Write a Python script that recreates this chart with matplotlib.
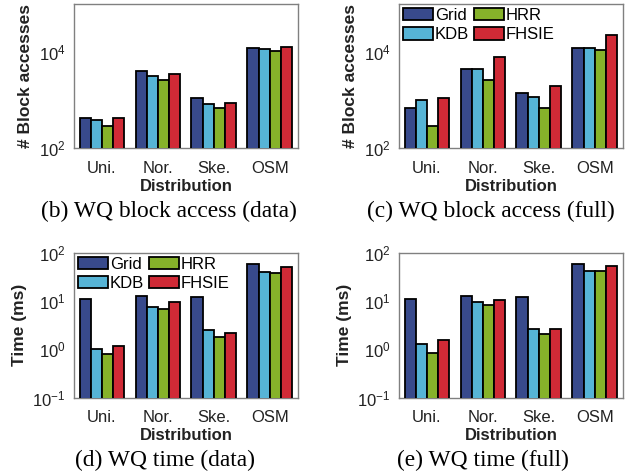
import numpy as np
import matplotlib
matplotlib.use("Agg")
import matplotlib.pyplot as plt
from matplotlib.ticker import FixedLocator, LogFormatterSciNotation, NullLocator

categories = ["Uni.", "Nor.", "Ske.", "OSM"]
methods = ["Grid", "KDB", "HRR", "FHSIE"]
colors = ["#384a8c", "#56b4d6", "#86b22a", "#d02a36"]

# (b) WQ block access (data)
block_data = {
    "Grid":  [421, 4100, 1127, 12160],
    "KDB":   [394, 3190, 822, 11780],
    "HRR":   [291, 2600, 679, 10700],
    "FHSIE": [433, 3510, 875, 12950],
}
# (c) WQ block access (full)
block_full = {
    "Grid":  [698, 4385, 1412, 12360],
    "KDB":   [1025, 4520, 1166, 12000],
    "HRR":   [295, 2630, 698, 11070],
    "FHSIE": [1112, 7800, 1945, 23000],
}
# (d) WQ time (data)
time_data = {
    "Grid":  [11.0, 12.7, 12.0, 58.6],
    "KDB":   [1.03, 7.66, 2.52, 40.0],
    "HRR":   [0.79, 6.97, 1.81, 37.6],
    "FHSIE": [1.19, 9.44, 2.22, 50.8],
}
# (e) WQ time (full)
time_full = {
    "Grid":  [11.2, 12.9, 12.0, 59.4],
    "KDB":   [1.31, 9.4, 2.64, 42.0],
    "HRR":   [0.855, 8.3, 2.08, 42.0],
    "FHSIE": [1.58, 10.5, 2.64, 54.0],
}

captions = ["(b) WQ block access (data)", "(c) WQ block access (full)",
            "(d) WQ time (data)", "(e) WQ time (full)"]

sans = "Liberation Sans"
serif = "Liberation Serif"
plt.rcParams["font.family"] = sans
plt.rcParams["mathtext.fontset"] = "custom"
plt.rcParams["mathtext.rm"] = sans
plt.rcParams["mathtext.it"] = sans

W, H = 634, 474
fig = plt.figure(figsize=(W / 100, H / 100), dpi=100)

def ax_at(left, top, right, bottom):
    return fig.add_axes([left / W, 1 - bottom / H, (right - left) / W, (bottom - top) / H])

axes = [
    ax_at(74, 4, 297.7, 148.3),
    ax_at(399, 4, 622.7, 148.3),
    ax_at(74, 252.7, 297.7, 397.7),
    ax_at(399, 252.7, 622.7, 397.7),
]
datasets = [block_data, block_full, time_data, time_full]
ylabels = ["# Block accesses", "# Block accesses", "Time (ms)", "Time (ms)"]
ylims = [(1e2, 1e5), (1e2, 1e5), (1e-1, 1e2), (1e-1, 1e2)]
yticks = [[1e2, 1e4], [1e2, 1e4], [1e-1, 1e0, 1e1, 1e2], [1e-1, 1e0, 1e1, 1e2]]
legend_on = [False, True, True, False]
caption_y = [211, 211, 460, 460]
caption_dx = [-17, -20, -21, -28]

x = np.arange(len(categories))
bw = 0.2
for i, ax in enumerate(axes):
    d = datasets[i]
    for j, m in enumerate(methods):
        ax.bar(x + (j - 1.5) * bw, d[m], width=bw, color=colors[j],
               edgecolor="black", linewidth=1.3, label=m, zorder=3)
    ax.set_yscale("log")
    ax.set_ylim(*ylims[i])
    ax.set_xlim(-0.5, 3.5)
    ax.yaxis.set_major_locator(FixedLocator(yticks[i]))
    ax.yaxis.set_minor_locator(NullLocator())
    ax.yaxis.set_major_formatter(LogFormatterSciNotation())
    ax.set_xticks(x)
    ax.set_xticklabels(categories)
    ax.tick_params(axis="x", length=0, labelsize=12, pad=9, colors="#222222")
    ax.tick_params(axis="y", length=0, labelsize=12, pad=6, colors="#222222")
    for s in ax.spines.values():
        s.set_color("#808080")
        s.set_linewidth(1.0)
    ax.set_ylabel(ylabels[i], fontsize=12.5, fontweight="bold", labelpad=4, color="#222222")
    ax.set_xlabel("Distribution", fontsize=12, fontweight="bold", labelpad=2, color="#222222")
    if legend_on[i]:
        ax.legend(ncol=2, loc="upper left", frameon=False, fontsize=12,
                  handlelength=1.8, handleheight=0.75, handletextpad=0.1,
                  columnspacing=0.3, labelspacing=0.25, borderaxespad=0.15,
                  borderpad=0.1)
    bb = ax.get_position()
    fig.text(bb.x0 + bb.width / 2 + caption_dx[i] / W, 1 - caption_y[i] / H, captions[i],
             family=serif, fontsize=16.8, ha="center", va="center")

fig.savefig("out.png", dpi=100)
